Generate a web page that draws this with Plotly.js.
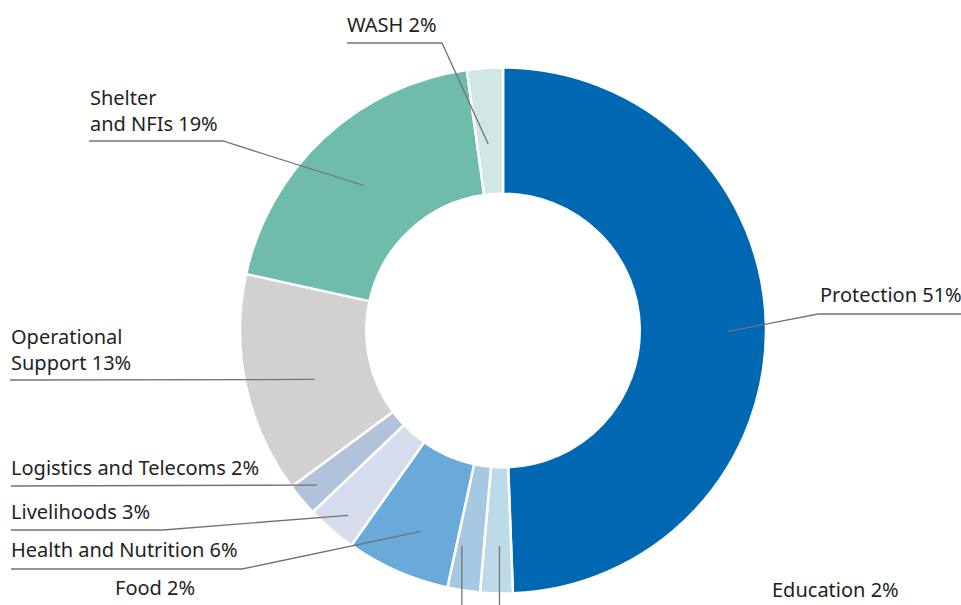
<!DOCTYPE html>
<html>
<head>
<meta charset="utf-8">
<script src="https://cdn.plot.ly/plotly-3.0.1.min.js"></script>
<style>html,body{margin:0;padding:0;background:#fff;}#chart{width:961px;height:605px;}</style>
</head>
<body>
<div id="chart"></div>
<script>
// ---- data ----
const labels = ['Protection', 'Education', 'Food', 'Health and Nutrition', 'Livelihoods',
                'Logistics and Telecoms', 'Operational<br>Support', 'Shelter<br>and NFIs', 'WASH'];
const values = [49.5, 2.0, 2.0, 6.4, 3.1, 2.0, 13.6, 19.4, 2.2];
const pctLabels = ['51%', '2%', '2%', '6%', '3%', '2%', '13%', '19%', '2%'];

// ---- styles ----
const colors = ['#0068b3', '#bddae8', '#a7c8e3', '#6aaada', '#d6dcec', '#b0c3da', '#d3d1cf', '#6fbcac', '#d1e7e4'];

const W = 961, H = 605;
const cx = 503, cy = 330.5, R = 263;
const hole = 0.52;

// callout layout: ring radius fraction, angle tweak, text position, leader path after anchor
const callouts = [
  {rf: 0.856, da: 1.3,  tx: 818, ty: 295, path: [[818, 314], [961, 314]]},
  {rf: 0.82,  da: -0.5, tx: 770, ty: 589, down: true},
  {rf: 0.833, da: 2.2,  tx: 113, ty: 587, down: true},
  {rf: 0.825, da: -1.5, tx: 9,   ty: 549, path: [[242, 569], [11, 569]]},
  {rf: 0.917, da: -0.8, tx: 9,   ty: 511, path: [[163, 530], [11, 530]]},
  {rf: 0.919, da: 0.3,  tx: 9,   ty: 467, path: [[11, 486]]},
  {rf: 0.741, da: -2.5, tx: 9,   ty: 349, path: [[10, 380]]},
  {rf: 0.762, da: -1.0, tx: 88,  ty: 110, path: [[223, 141], [89, 141]]},
  {rf: 0.711, da: -0.6, tx: 345, ty: 24,  path: [[442, 43], [347, 43]]}
];

const px = x => x / W;
const py = y => 1 - y / H;

const total = values.reduce((a, b) => a + b, 0);
let cum = 0;
const shapes = [];
const annotations = [];
values.forEach((v, i) => {
  const mid = (cum + v / 2) / total * 360;
  cum += v;
  const c = callouts[i];
  const th = (mid + c.da) * Math.PI / 180;
  const ax = cx + c.rf * R * Math.sin(th);
  const ay = cy - c.rf * R * Math.cos(th);
  const pts = [[ax, ay]].concat(c.down ? [[ax, H + 5]] : c.path);
  const d = pts.map((p, k) => (k ? 'L' : 'M') + px(p[0]).toFixed(5) + ',' + py(p[1]).toFixed(5)).join(' ');
  shapes.push({type: 'path', xref: 'paper', yref: 'paper', path: d,
               line: {color: '#737373', width: 1.3}});
  annotations.push({xref: 'paper', yref: 'paper', x: px(c.tx), y: py(c.ty),
                    xanchor: 'left', yanchor: 'middle', align: 'left', showarrow: false,
                    text: labels[i] + ' ' + pctLabels[i],
                    font: {family: 'Noto Sans, Arial, sans-serif', size: 20, color: '#231f20'}});
});

const trace = {
  type: 'pie',
  labels: labels,
  values: values,
  sort: false,
  direction: 'clockwise',
  rotation: 0,
  hole: hole,
  textinfo: 'none',
  hoverinfo: 'label+percent',
  marker: {colors: colors, line: {color: '#ffffff', width: 2.5}},
  domain: {x: [(cx - R) / W, (cx + R) / W], y: [1 - (cy + R) / H, 1 - (cy - R) / H]},
  showlegend: false
};

Plotly.newPlot('chart', [trace], {
  width: W, height: H,
  margin: {l: 0, r: 0, t: 0, b: 0},
  paper_bgcolor: '#ffffff',
  showlegend: false,
  shapes: shapes,
  annotations: annotations
}, {staticPlot: true, displayModeBar: false});
</script>
</body>
</html>
